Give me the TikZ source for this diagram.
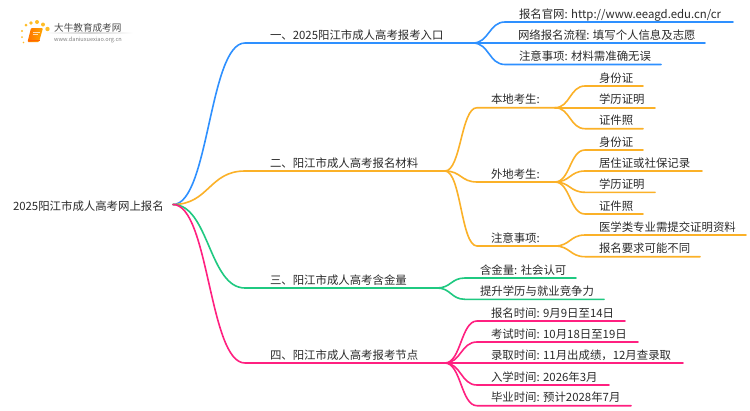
\documentclass[tikz,border=0pt]{standalone}
\usepackage{fontspec}
\setmainfont{Noto Sans CJK SC}
\usetikzlibrary{calc}
\definecolor{cblue}{HTML}{2E90FF}
\definecolor{corange}{HTML}{FBB128}
\definecolor{cgreen}{HTML}{1FC981}
\definecolor{cpink}{HTML}{FF2080}
\definecolor{ctext}{HTML}{2B2B2B}
\tikzset{
  label/.style={anchor=base west,inner sep=0pt,outer sep=0pt,text=ctext,font=\fontsize{11.4pt}{13pt}\selectfont},
  wire/.style={line width=1.6pt,line cap=round},
}
% \branch{name}{parent}{colour}{xstart}{xend}{y}{textx}{half width of curve}{text}
\newcommand{\branch}[9]{%
  \coordinate (#1s) at (#4,#6);
  \coordinate (#1) at (#5,#6);
  \node[label] (#1t) at (#7,#6-4) {#9};
  \draw[wire,#3] (#2) .. controls +(#8,0) and +(-#8,0) .. (#1s) -- (#1);
}
\begin{document}
\begin{tikzpicture}[x=1pt,y=-1pt]
\useasboundingbox (0,0) rectangle (750,410);
% logo
\fill[white] (0,0) rectangle (750,410);
\foreach \px/\py/\pr in {22/31/1.2,26/25/1.5,31/23/1.9,37/22/2.0,43/24.5/2.0,47.5/29/2.2,22/37/1.0,23.5/42.5/0.9}
  \fill[orange!60!yellow,opacity=.85] (\px,\py) circle (\pr);
\shade[left color=orange!90!red,right color=orange!70!yellow,rounded corners=1pt] (31,28) -- (43,28) -- (39,42) -- (27.5,42) -- cycle;
\draw[white,line width=.5pt,opacity=.7] (33,32) -- (40,32) (32.5,34.5) -- (38,34.5);
\draw[orange!80!red,line width=.7pt] (28,40.5) -- (39.5,40.5);
\shade[left color=white,right color=white,middle color=gray!35] (45,32.8) rectangle (133,33.6);
\node[inner sep=0pt,anchor=base west,text=ctext!85!white,font=\fontsize{9.6pt}{11pt}\selectfont] (logoa) at (54,31) {大牛教育成考网};
\node[inner sep=0pt,anchor=base west,text=gray,font=\fontsize{5.6pt}{7pt}\selectfont] (logob) at (54,41) {www.daniuxuexiao.org.cn};
% root
\coordinate (root) at (173,204.5);
\node[label] (roott) at (13,210) {2025阳江市成人高考网上报名};
% level 1
\branch{A}{root}{cblue}{245}{473}{43}{270}{36}{一、2025阳江市成人高考报考入口}
\branch{B}{root}{corange}{245}{445}{171}{270}{36}{二、阳江市成人高考报名材料}
\branch{C}{root}{cgreen}{245}{437}{288}{270}{36}{三、阳江市成人高考含金量}
\branch{D}{root}{cpink}{245}{445}{363}{270}{36}{四、阳江市成人高考报考节点}
% A
\branch{Aa}{A}{cblue}{505}{733}{22}{519}{16}{报名官网: http://www.eeagd.edu.cn/cr}
\branch{Ab}{A}{cblue}{505}{705}{43}{518}{16}{网络报名流程: 填写个人信息及志愿}
\branch{Ac}{A}{cblue}{505}{661}{64.5}{519}{16}{注意事项: 材料需准确无误}
% B
\branch{Ba}{B}{corange}{477}{555}{107.7}{491}{16}{本地考生:}
\branch{Bb}{B}{corange}{477}{555}{182}{491}{16}{外地考生:}
\branch{Bc}{B}{corange}{477}{555}{246}{491}{16}{注意事项:}
% Ba
\branch{Baa}{Ba}{corange}{585}{643}{86}{599}{15}{身份证}
\branch{Bab}{Ba}{corange}{585}{655}{107.7}{599}{15}{学历证明}
\branch{Bac}{Ba}{corange}{585}{643}{128.7}{599}{15}{证件照}
% Bb
\branch{Bba}{Bb}{corange}{585}{643}{150}{599}{15}{身份证}
\branch{Bbb}{Bb}{corange}{585}{702}{171}{599}{15}{居住证或社保记录}
\branch{Bbc}{Bb}{corange}{585}{655}{192.3}{599}{15}{学历证明}
\branch{Bbd}{Bb}{corange}{585}{643}{214}{599}{15}{证件照}
% Bc
\branch{Bca}{Bc}{corange}{585}{746}{235}{599}{15}{医学类专业需提交证明资料}
\branch{Bcb}{Bc}{corange}{585}{700}{256.7}{599}{15}{报名要求可能不同}
% C
\branch{Ca}{C}{cgreen}{465}{576}{278}{480}{14}{含金量: 社会认可}
\branch{Cb}{C}{cgreen}{465}{604}{299.3}{480}{14}{提升学历与就业竞争力}
% D
\branch{Da}{D}{cpink}{477}{625}{321}{491}{16}{报名时间: 9月9日至14日}
\branch{Db}{D}{cpink}{477}{638}{342}{491}{16}{考试时间: 10月18日至19日}
\branch{Dc}{D}{cpink}{477}{683}{363}{491}{16}{录取时间: 11月出成绩，12月查录取}
\branch{Dd}{D}{cpink}{477}{609}{385}{491}{16}{入学时间: 2026年3月}
\branch{De}{D}{cpink}{477}{631}{405.7}{491}{16}{毕业时间: 预计2028年7月}
\end{tikzpicture}
\end{document}
